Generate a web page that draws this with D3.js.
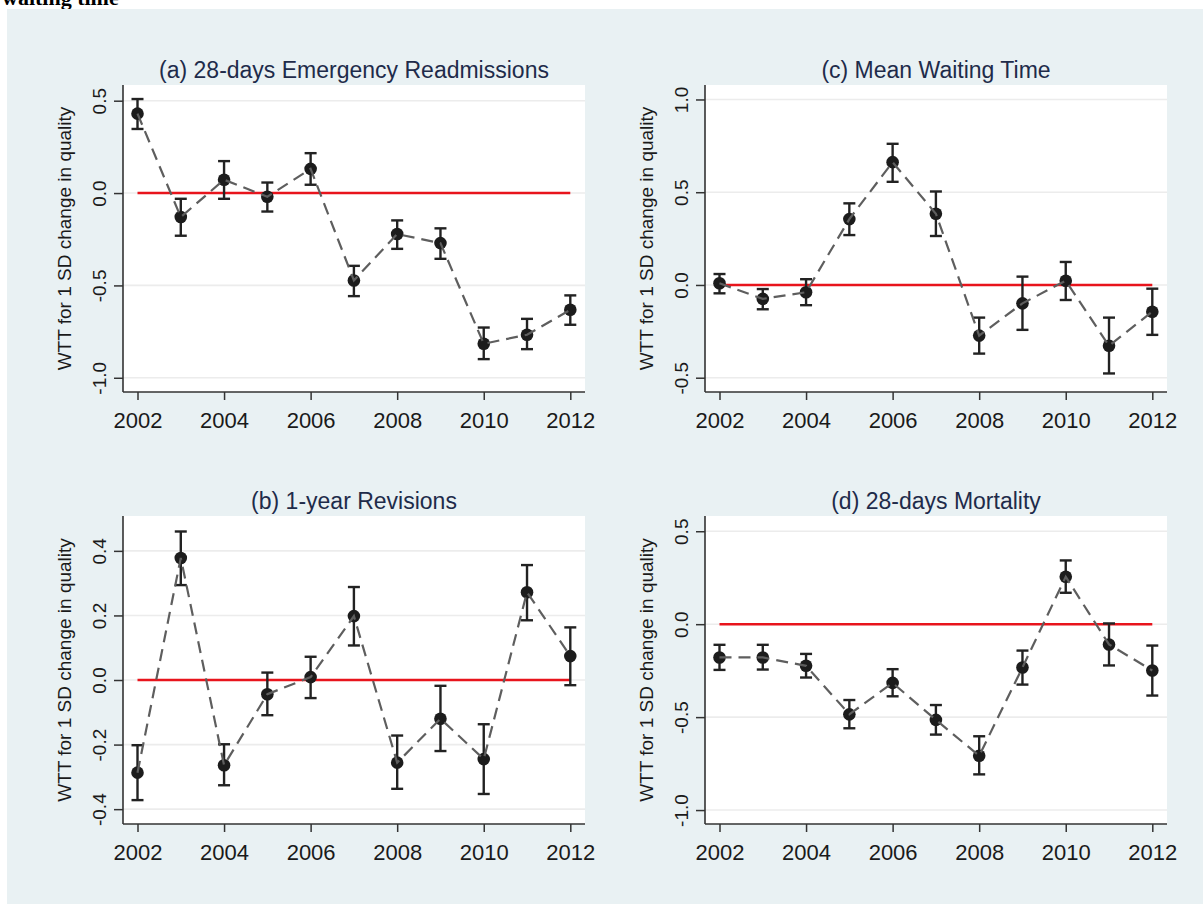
<!DOCTYPE html>
<html>
<head>
<meta charset="utf-8">
<script src="https://cdn.jsdelivr.net/npm/d3@7"></script>
<style>
  body { margin: 0; background: #fff; }
  svg { display: block; }
</style>
</head>
<body>
<div id="chart"></div>
<script>
// ---- data ----
const years = [2002, 2003, 2004, 2005, 2006, 2007, 2008, 2009, 2010, 2011, 2012];
const xTicks = [2002, 2004, 2006, 2008, 2010, 2012];

// (a) 28-days emergency readmissions
const readmitCoef = [0.43, -0.13, 0.072, -0.02, 0.131, -0.473, -0.222, -0.271, -0.816, -0.767, -0.632];
const readmitLo = [0.347, -0.231, -0.031, -0.1, 0.045, -0.558, -0.302, -0.356, -0.899, -0.845, -0.713];
const readmitHi = [0.509, -0.031, 0.173, 0.057, 0.216, -0.394, -0.148, -0.191, -0.728, -0.681, -0.554];
const readmitTicks = [0.5, 0.0, -0.5, -1.0];

// (b) 1-year revisions
const revisionCoef = [-0.287, 0.378, -0.264, -0.044, 0.009, 0.198, -0.256, -0.12, -0.245, 0.272, 0.074];
const revisionLo = [-0.372, 0.294, -0.326, -0.109, -0.056, 0.107, -0.337, -0.22, -0.353, 0.185, -0.016];
const revisionHi = [-0.202, 0.46, -0.199, 0.023, 0.072, 0.288, -0.172, -0.018, -0.137, 0.356, 0.163];
const revisionTicks = [0.4, 0.2, 0.0, -0.2, -0.4];

// (c) mean waiting time
const waitCoef = [0.009, -0.075, -0.039, 0.355, 0.662, 0.384, -0.273, -0.099, 0.023, -0.328, -0.144];
const waitLo = [-0.045, -0.131, -0.109, 0.269, 0.556, 0.264, -0.37, -0.242, -0.081, -0.477, -0.269];
const waitHi = [0.059, -0.022, 0.031, 0.44, 0.761, 0.504, -0.176, 0.045, 0.124, -0.176, -0.02];
const waitTicks = [1.0, 0.5, 0.0, -0.5];

// (d) 28-days mortality
const mortCoef = [-0.179, -0.179, -0.224, -0.485, -0.316, -0.515, -0.708, -0.233, 0.255, -0.109, -0.249];
const mortLo = [-0.246, -0.244, -0.287, -0.56, -0.388, -0.594, -0.808, -0.325, 0.169, -0.222, -0.384];
const mortHi = [-0.111, -0.111, -0.16, -0.408, -0.242, -0.435, -0.603, -0.142, 0.343, 0.004, -0.115];
const mortTicks = [0.5, 0.0, -0.5, -1.0];

const yTitle = "WTT for 1 SD change in quality";
const fontFamily = "'Liberation Sans', Arial, Helvetica, sans-serif";

const width = 1203;
const height = 904;

const svg = d3
  .select("#chart")
  .append("svg")
  .attr("width", width)
  .attr("height", height);

// heading above the figure (cut off by the page edge, as in the source)
svg
  .append("text")
  .attr("x", 2)
  .attr("y", 5)
  .attr("font-family", "'Liberation Serif', 'Times New Roman', serif")
  .attr("font-weight", "bold")
  .attr("font-size", 22)
  .attr("fill", "#000")
  .text("waiting time");

// graph background
svg
  .append("rect")
  .attr("x", 7)
  .attr("y", 9)
  .attr("width", width - 7)
  .attr("height", height - 9)
  .attr("fill", "#e9f1f3");

class ErrorPlot {
  constructor(_config) {
    this.config = {
      left: _config.left,
      top: _config.top,
      width: _config.width || 462,
      height: _config.height || 307,
      title: _config.title,
      coef: _config.coef,
      lo: _config.lo,
      hi: _config.hi,
      yDomain: _config.yDomain,
      yTicks: _config.yTicks,
    };
    this.initVis();
  }

  initVis() {
    const vis = this;
    const c = vis.config;

    vis.g = svg
      .append("g")
      .attr("transform", `translate(${c.left},${c.top})`);

    vis.x = d3.scaleLinear().domain([2002, 2012]).range([14.5, 447.3]);
    vis.y = d3.scaleLinear().domain(c.yDomain).range([c.height, 0]);

    vis.data = years.map((yr, i) => ({
      year: yr,
      coef: c.coef[i],
      lo: c.lo[i],
      hi: c.hi[i],
    }));

    vis.renderVis();
  }

  renderVis() {
    const vis = this;
    const c = vis.config;

    // plot region
    vis.g
      .append("rect")
      .attr("width", c.width)
      .attr("height", c.height)
      .attr("fill", "#fff");

    // gridlines
    vis.g
      .selectAll("line.grid")
      .data(c.yTicks)
      .join("line")
      .attr("class", "grid")
      .attr("x1", 0)
      .attr("x2", c.width)
      .attr("y1", (d) => vis.y(d))
      .attr("y2", (d) => vis.y(d))
      .attr("stroke", "#ececec")
      .attr("stroke-width", 1.6);

    // y axis
    const yAxis = d3
      .axisLeft(vis.y)
      .tickValues(c.yTicks)
      .tickSize(9)
      .tickPadding(0)
      .tickFormat((d) => d.toFixed(1));

    const yAxisG = vis.g.append("g").call(yAxis);
    yAxisG.select(".domain").remove();
    yAxisG.selectAll(".tick line").attr("stroke", "#333").attr("stroke-width", 1.5);
    yAxisG
      .selectAll(".tick text")
      .attr("transform", "rotate(-90)")
      .attr("x", 0)
      .attr("y", -17)
      .attr("dy", 0)
      .attr("text-anchor", "middle")
      .attr("font-family", fontFamily)
      .attr("font-size", 19)
      .attr("fill", "#1a1a1a");

    // x axis
    const xAxis = d3
      .axisBottom(vis.x)
      .tickValues(xTicks)
      .tickSize(8)
      .tickPadding(0)
      .tickFormat(d3.format("d"));

    const xAxisG = vis.g
      .append("g")
      .attr("transform", `translate(0,${c.height})`)
      .call(xAxis);
    xAxisG.select(".domain").remove();
    xAxisG.selectAll(".tick line").attr("stroke", "#333").attr("stroke-width", 1.5);
    xAxisG
      .selectAll(".tick text")
      .attr("y", 35.5)
      .attr("dy", 0)
      .attr("font-family", fontFamily)
      .attr("font-size", 22)
      .attr("fill", "#1a1a1a");

    // axis lines
    vis.g
      .append("line")
      .attr("x1", 0)
      .attr("x2", 0)
      .attr("y1", 0)
      .attr("y2", c.height)
      .attr("stroke", "#333")
      .attr("stroke-width", 1.6);
    vis.g
      .append("line")
      .attr("x1", 0)
      .attr("x2", c.width)
      .attr("y1", c.height)
      .attr("y2", c.height)
      .attr("stroke", "#333")
      .attr("stroke-width", 1.6);

    // axis title
    vis.g
      .append("text")
      .attr("transform", `translate(-52,${c.height / 2}) rotate(-90)`)
      .attr("text-anchor", "middle")
      .attr("font-family", fontFamily)
      .attr("font-size", 19)
      .attr("fill", "#1a1a1a")
      .text(yTitle);

    // panel title
    vis.g
      .append("text")
      .attr("x", c.width / 2)
      .attr("y", -7.5)
      .attr("text-anchor", "middle")
      .attr("font-family", fontFamily)
      .attr("font-size", 23)
      .attr("fill", "#1e2b4a")
      .text(c.title);

    // zero reference line
    vis.g
      .append("line")
      .attr("x1", vis.x(2002))
      .attr("x2", vis.x(2012))
      .attr("y1", vis.y(0))
      .attr("y2", vis.y(0))
      .attr("stroke", "#e8141c")
      .attr("stroke-width", 2.6);

    // error bars
    const bars = vis.g
      .selectAll("g.ci")
      .data(vis.data)
      .join("g")
      .attr("class", "ci")
      .attr("stroke", "#222")
      .attr("stroke-width", 2.4);

    bars
      .append("line")
      .attr("x1", (d) => vis.x(d.year))
      .attr("x2", (d) => vis.x(d.year))
      .attr("y1", (d) => vis.y(d.lo))
      .attr("y2", (d) => vis.y(d.hi));
    bars
      .append("line")
      .attr("x1", (d) => vis.x(d.year) - 6)
      .attr("x2", (d) => vis.x(d.year) + 6)
      .attr("y1", (d) => vis.y(d.lo))
      .attr("y2", (d) => vis.y(d.lo));
    bars
      .append("line")
      .attr("x1", (d) => vis.x(d.year) - 6)
      .attr("x2", (d) => vis.x(d.year) + 6)
      .attr("y1", (d) => vis.y(d.hi))
      .attr("y2", (d) => vis.y(d.hi));

    // point estimates
    vis.g
      .selectAll("circle.est")
      .data(vis.data)
      .join("circle")
      .attr("class", "est")
      .attr("cx", (d) => vis.x(d.year))
      .attr("cy", (d) => vis.y(d.coef))
      .attr("r", 6.3)
      .attr("fill", "#1c1c1c");

    // dashed connecting line
    const line = d3
      .line()
      .x((d) => vis.x(d.year))
      .y((d) => vis.y(d.coef));

    vis.g
      .append("path")
      .datum(vis.data)
      .attr("d", line)
      .attr("fill", "none")
      .attr("stroke", "#5e5e5e")
      .attr("stroke-width", 2.2)
      .attr("stroke-dasharray", "12,7");
  }
}

new ErrorPlot({
  left: 123, top: 85, height: 307,
  title: "(a) 28-days Emergency Readmissions",
  coef: readmitCoef, lo: readmitLo, hi: readmitHi,
  yDomain: [-1.077, 0.585], yTicks: readmitTicks,
});

new ErrorPlot({
  left: 705, top: 85, height: 307,
  title: "(c) Mean Waiting Time",
  coef: waitCoef, lo: waitLo, hi: waitHi,
  yDomain: [-0.577, 1.078], yTicks: waitTicks,
});

new ErrorPlot({
  left: 123, top: 516, height: 308,
  title: "(b) 1-year Revisions",
  coef: revisionCoef, lo: revisionLo, hi: revisionHi,
  yDomain: [-0.446, 0.508], yTicks: revisionTicks,
});

new ErrorPlot({
  left: 705, top: 516, height: 308,
  title: "(d) 28-days Mortality",
  coef: mortCoef, lo: mortLo, hi: mortHi,
  yDomain: [-1.075, 0.582], yTicks: mortTicks,
});
</script>
</body>
</html>
